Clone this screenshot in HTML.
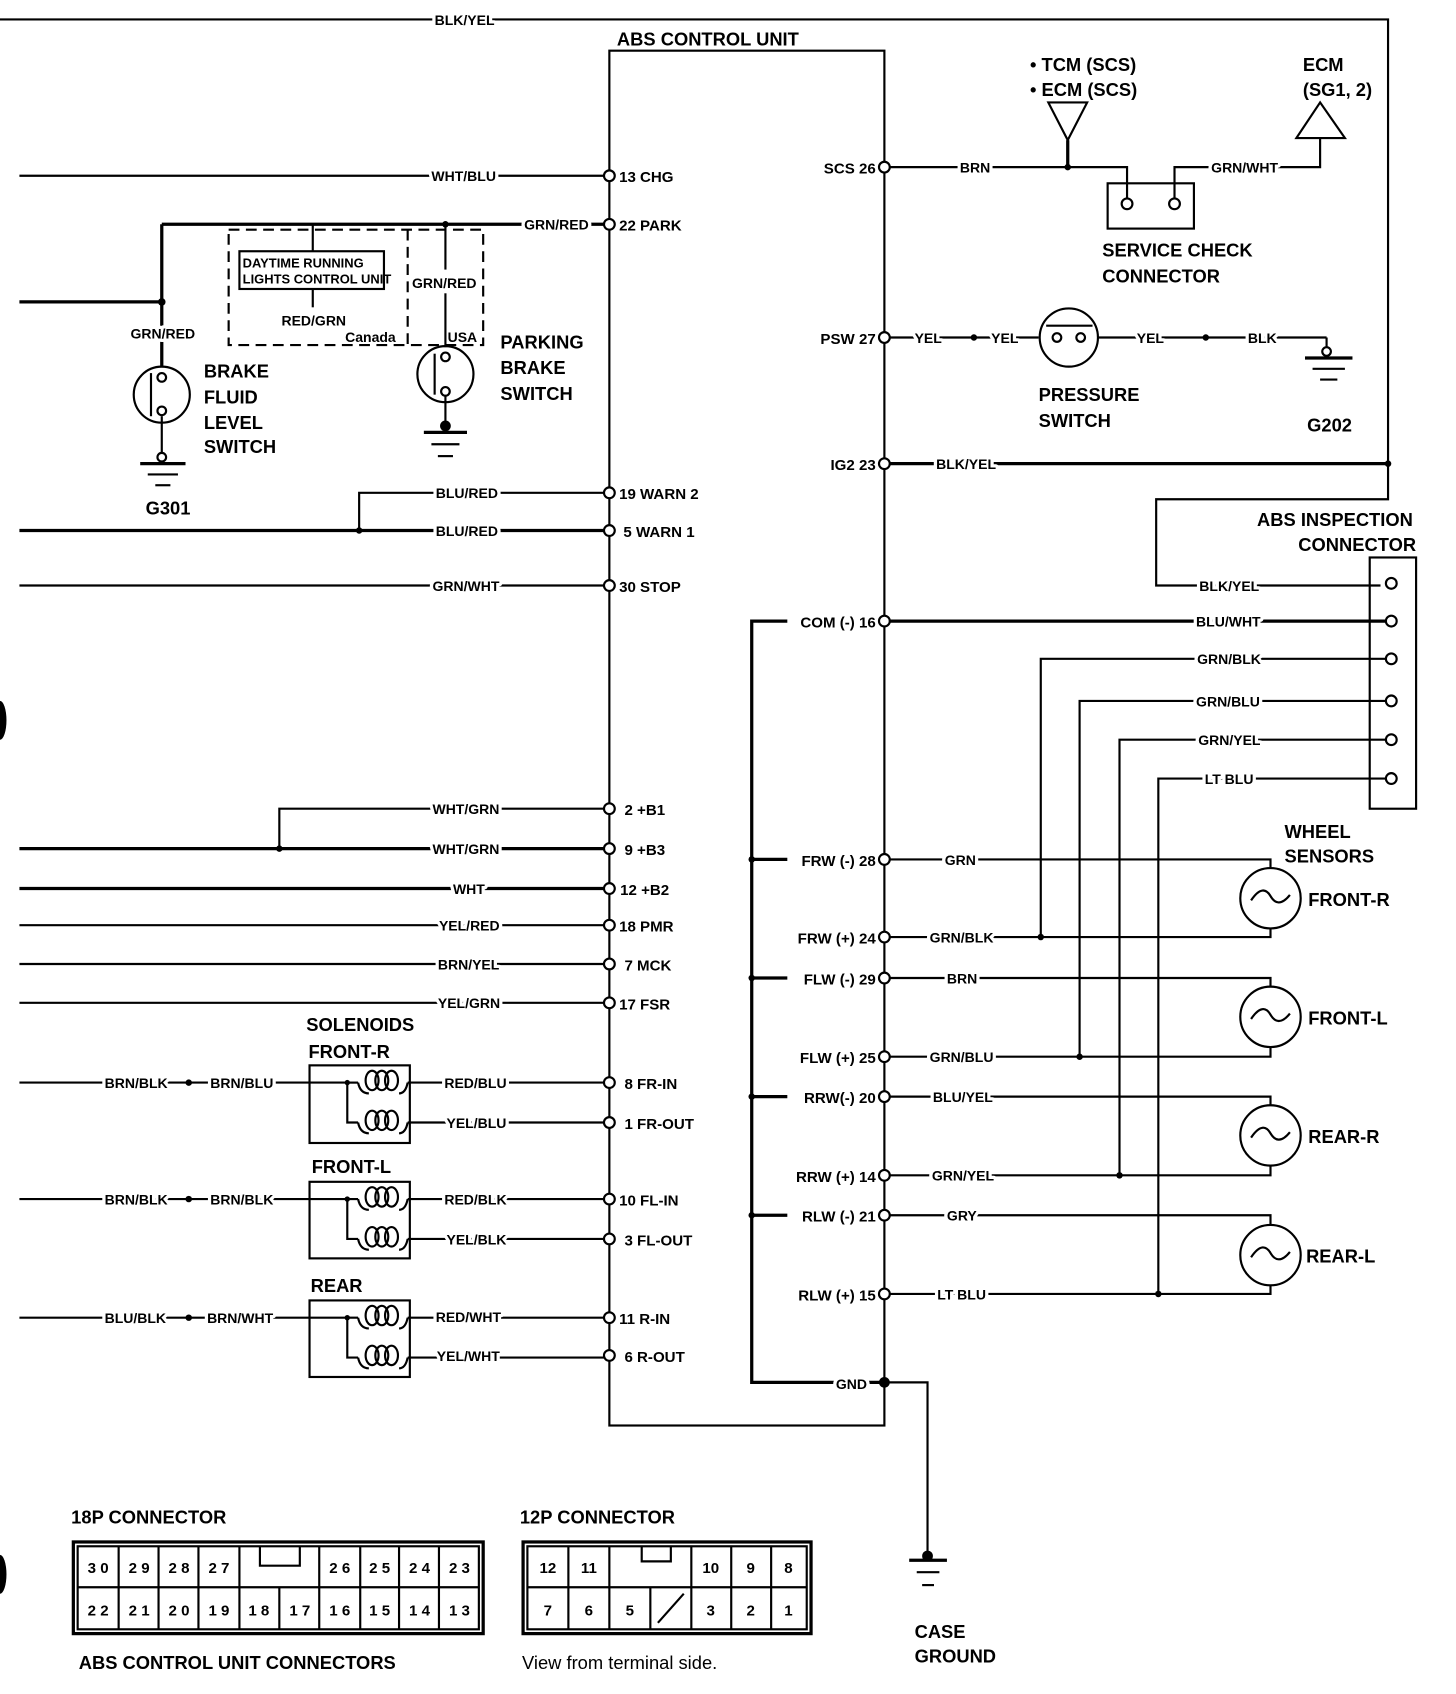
<!DOCTYPE html>
<html><head><meta charset="utf-8"><style>
html,body{margin:0;padding:0;background:#fff}
svg{display:block}
text{font-family:"Liberation Sans Narrow","Liberation Sans",sans-serif;font-weight:bold;fill:#000}
.w{font-size:13px}
.p{font-size:14px}
.l{font-size:17px}
</style></head><body>
<svg width="1456" height="1694" viewBox="0 0 1350 1571" preserveAspectRatio="none" xmlns="http://www.w3.org/2000/svg">
<defs>
<g id="wl" class="w">
<text x="403" y="23">BLK/YEL</text>
<text x="400" y="168">WHT/BLU</text>
<text x="486" y="213">GRN/RED</text>
<text x="121" y="314">GRN/RED</text>
<text x="382" y="267">GRN/RED</text>
<text x="261" y="302">RED/GRN</text>
<text x="404" y="462">BLU/RED</text>
<text x="404" y="497">BLU/RED</text>
<text x="401" y="548">GRN/WHT</text>
<text x="401" y="755">WHT/GRN</text>
<text x="401" y="792">WHT/GRN</text>
<text x="420" y="829">WHT</text>
<text x="407" y="863">YEL/RED</text>
<text x="406" y="899">BRN/YEL</text>
<text x="406" y="935">YEL/GRN</text>
<text x="97" y="1009">BRN/BLK</text><text x="195" y="1009">BRN/BLU</text>
<text x="412" y="1009">RED/BLU</text><text x="414" y="1046">YEL/BLU</text>
<text x="97" y="1117">BRN/BLK</text><text x="195" y="1117">BRN/BLK</text>
<text x="412" y="1117">RED/BLK</text><text x="414" y="1154">YEL/BLK</text>
<text x="97" y="1227">BLU/BLK</text><text x="192" y="1227">BRN/WHT</text>
<text x="404" y="1226">RED/WHT</text><text x="405" y="1262">YEL/WHT</text>
<text x="890" y="160">BRN</text>
<text x="1123" y="160">GRN/WHT</text>
<text x="848" y="318">YEL</text><text x="919" y="318">YEL</text>
<text x="1054" y="318">YEL</text><text x="1157" y="318">BLK</text>
<text x="868" y="435">BLK/YEL</text>
<text x="1112" y="548">BLK/YEL</text>
<text x="1109" y="581">BLU/WHT</text>
<text x="1110" y="616">GRN/BLK</text>
<text x="1109" y="655">GRN/BLU</text>
<text x="1111" y="691">GRN/YEL</text>
<text x="1117" y="727">LT BLU</text>
<text x="876" y="802">GRN</text>
<text x="862" y="874">GRN/BLK</text>
<text x="878" y="912">BRN</text>
<text x="862" y="985">GRN/BLU</text>
<text x="865" y="1022">BLU/YEL</text>
<text x="864" y="1095">GRN/YEL</text>
<text x="878" y="1132">GRY</text>
<text x="869" y="1205">LT BLU</text>
<text x="775" y="1288">GND</text>
</g>
</defs>
<g stroke="#000" stroke-width="2" fill="none">
<polyline points="0,18 1287,18 1287,463 1072,463 1072,543 1280,543"/>
<rect x="565" y="47" width="255" height="1275"/>
<line x1="18" y1="163" x2="560" y2="163"/>
<line x1="150" y1="208" x2="560" y2="208" stroke-width="3"/>
<polyline points="333,492 333,457 560,457"/>
<line x1="18" y1="492" x2="560" y2="492" stroke-width="3"/>
<line x1="18" y1="543" x2="560" y2="543"/>
<polyline points="259,787 259,750 560,750"/>
<line x1="18" y1="787" x2="560" y2="787" stroke-width="3"/>
<line x1="18" y1="824" x2="560" y2="824" stroke-width="3"/>
<line x1="18" y1="858" x2="560" y2="858"/>
<line x1="18" y1="894" x2="560" y2="894"/>
<line x1="18" y1="930" x2="560" y2="930"/>
<line x1="18" y1="1004" x2="322" y2="1004"/>
<line x1="18" y1="1112" x2="322" y2="1112"/>
<line x1="18" y1="1222" x2="322" y2="1222"/>
<rect x="287" y="988" width="93" height="72"/>
<rect x="287" y="1096" width="93" height="71"/>
<rect x="287" y="1206" width="93" height="71"/>
<g id="sol">
<polyline points="322,1004 322,1041 332,1041"/>
<line x1="322" y1="1004" x2="332" y2="1004"/>
<path d="M332,1004 Q334,1014 342,1014 M370,1014 Q376,1014 378,1004"/>
<ellipse cx="345" cy="1002" rx="6" ry="9"/><ellipse cx="354" cy="1002" rx="6" ry="9"/><ellipse cx="363" cy="1002" rx="6" ry="9"/>
<path d="M332,1041 Q334,1051 342,1051 M370,1051 Q376,1051 378,1041"/>
<ellipse cx="345" cy="1039" rx="6" ry="9"/><ellipse cx="354" cy="1039" rx="6" ry="9"/><ellipse cx="363" cy="1039" rx="6" ry="9"/>
<line x1="378" y1="1004" x2="560" y2="1004"/>
<line x1="378" y1="1041" x2="560" y2="1041"/>
</g>
<use href="#sol" transform="translate(0,108)"/>
<use href="#sol" transform="translate(0,218)"/>
<rect x="212" y="213" width="236" height="107" stroke-dasharray="10,6"/>
<line x1="378" y1="213" x2="378" y2="320" stroke-dasharray="10,6"/>
<rect x="222" y="233" width="134" height="35"/>
<line x1="290" y1="208" x2="290" y2="233"/>
<line x1="290" y1="268" x2="290" y2="285"/>
<polyline points="150,208 150,340" stroke-width="3"/>
<line x1="18" y1="280" x2="150" y2="280" stroke-width="3"/>
<circle cx="150" cy="366" r="26"/>
<line x1="140" y1="346" x2="140" y2="386"/>
<circle cx="150" cy="350" r="4"/><circle cx="150" cy="381" r="4"/>
<line x1="150" y1="386" x2="150" y2="420"/>
<circle cx="150" cy="424" r="4"/>
<line x1="130" y1="430" x2="172" y2="430" stroke-width="3"/>
<line x1="137" y1="440" x2="165" y2="440"/><line x1="144" y1="450" x2="158" y2="450"/>
<line x1="413" y1="208" x2="413" y2="250"/>
<line x1="413" y1="272" x2="413" y2="322"/>
<circle cx="413" cy="347" r="26"/>
<line x1="403" y1="328" x2="403" y2="366"/>
<circle cx="413" cy="331" r="4"/><circle cx="413" cy="363" r="4"/>
<line x1="413" y1="367" x2="413" y2="395"/>
<line x1="393" y1="401" x2="433" y2="401" stroke-width="3"/>
<line x1="400" y1="412" x2="426" y2="412"/><line x1="406" y1="423" x2="420" y2="423"/>
<polyline points="825,155 1045,155 1045,185"/>
<polyline points="1089,185 1089,155 1224,155 1224,128"/>
<rect x="1027" y="170" width="80" height="42"/>
<polygon points="972,95 1008,95 990,130"/>
<line x1="990" y1="130" x2="990" y2="155" stroke-width="3"/>
<polygon points="1224,95 1202,128 1247,128"/>
<line x1="825" y1="313" x2="963" y2="313"/>
<circle cx="991" cy="313" r="27"/>
<line x1="970" y1="302" x2="1013" y2="302"/>
<line x1="1018" y1="313" x2="1230" y2="313"/>
<line x1="1230" y1="313" x2="1230" y2="322"/>
<circle cx="1230" cy="326" r="4"/>
<line x1="1210" y1="332" x2="1254" y2="332" stroke-width="3"/>
<line x1="1217" y1="342" x2="1247" y2="342"/><line x1="1224" y1="352" x2="1240" y2="352"/>
<line x1="825" y1="430" x2="1287" y2="430" stroke-width="3"/>
<line x1="825" y1="576" x2="1285" y2="576" stroke-width="3"/>
<polyline points="730,576 697,576 697,1282 820,1282" stroke-width="3"/>
<line x1="697" y1="797" x2="730" y2="797" stroke-width="3"/>
<line x1="697" y1="907" x2="730" y2="907" stroke-width="3"/>
<line x1="697" y1="1017" x2="730" y2="1017" stroke-width="3"/>
<line x1="697" y1="1127" x2="730" y2="1127" stroke-width="3"/>
<polyline points="820,1282 860,1282 860,1445" stroke-width="2"/>
<line x1="843" y1="1447" x2="878" y2="1447" stroke-width="3"/>
<line x1="850" y1="1458" x2="871" y2="1458"/><line x1="855" y1="1470" x2="866" y2="1470"/>
<rect x="1270" y="517" width="43" height="233"/>
<polyline points="965,869 965,611 1285,611"/>
<polyline points="1001,980 1001,650 1285,650"/>
<polyline points="1038,1090 1038,686 1285,686"/>
<polyline points="1074,1200 1074,722 1285,722"/>
<polyline points="825,797 1178,797 1178,805"/>
<polyline points="825,869 1178,869 1178,861"/>
<polyline points="825,907 1178,907 1178,915"/>
<polyline points="825,980 1178,980 1178,971"/>
<polyline points="825,1017 1178,1017 1178,1025"/>
<polyline points="825,1090 1178,1090 1178,1081"/>
<polyline points="825,1127 1178,1127 1178,1136"/>
<polyline points="825,1200 1178,1200 1178,1192"/>
<g id="sen"><circle cx="1178" cy="833" r="28"/><path d="M1160,835 C1168,823 1174,824 1178,831 C1182,838 1188,840 1196,830"/></g>
<use href="#sen" transform="translate(0,110)"/>
<use href="#sen" transform="translate(0,220)"/>
<use href="#sen" transform="translate(0,331)"/>
<rect x="68" y="1430" width="380" height="85" stroke-width="3"/>
<rect x="72" y="1434" width="372" height="77"/>
<line x1="72" y1="1472" x2="444" y2="1472"/>
<line x1="110" y1="1434" x2="110" y2="1511"/><line x1="147" y1="1434" x2="147" y2="1511"/>
<line x1="184" y1="1434" x2="184" y2="1511"/><line x1="222" y1="1434" x2="222" y2="1511"/>
<line x1="296" y1="1434" x2="296" y2="1511"/><line x1="334" y1="1434" x2="334" y2="1511"/>
<line x1="370" y1="1434" x2="370" y2="1511"/><line x1="407" y1="1434" x2="407" y2="1511"/>
<line x1="259" y1="1472" x2="259" y2="1511"/>
<polyline points="241,1434 241,1452 278,1452 278,1434"/>
<rect x="485" y="1430" width="267" height="85" stroke-width="3"/>
<rect x="489" y="1434" width="259" height="77"/>
<line x1="489" y1="1472" x2="748" y2="1472"/>
<line x1="527" y1="1434" x2="527" y2="1511"/><line x1="565" y1="1434" x2="565" y2="1511"/>
<line x1="603" y1="1472" x2="603" y2="1511"/><line x1="641" y1="1434" x2="641" y2="1511"/>
<line x1="678" y1="1434" x2="678" y2="1511"/><line x1="715" y1="1434" x2="715" y2="1511"/>
<polyline points="595,1434 595,1448 622,1448 622,1434"/>
<line x1="610" y1="1505" x2="634" y2="1478"/>
</g>
<g fill="#fff" stroke="#000" stroke-width="2">
<circle cx="565" cy="163" r="5"/><circle cx="565" cy="208" r="5"/><circle cx="565" cy="457" r="5"/><circle cx="565" cy="492" r="5"/><circle cx="565" cy="543" r="5"/>
<circle cx="565" cy="750" r="5"/><circle cx="565" cy="787" r="5"/><circle cx="565" cy="824" r="5"/><circle cx="565" cy="858" r="5"/><circle cx="565" cy="894" r="5"/><circle cx="565" cy="930" r="5"/>
<circle cx="565" cy="1004" r="5"/><circle cx="565" cy="1041" r="5"/><circle cx="565" cy="1112" r="5"/><circle cx="565" cy="1149" r="5"/><circle cx="565" cy="1222" r="5"/><circle cx="565" cy="1257" r="5"/>
<circle cx="820" cy="155" r="5"/><circle cx="820" cy="313" r="5"/><circle cx="820" cy="430" r="5"/><circle cx="820" cy="576" r="5"/>
<circle cx="820" cy="797" r="5"/><circle cx="820" cy="869" r="5"/><circle cx="820" cy="907" r="5"/><circle cx="820" cy="980" r="5"/><circle cx="820" cy="1017" r="5"/><circle cx="820" cy="1090" r="5"/><circle cx="820" cy="1127" r="5"/><circle cx="820" cy="1200" r="5"/>
<circle cx="1290" cy="541" r="5"/><circle cx="1290" cy="576" r="5"/><circle cx="1290" cy="611" r="5"/><circle cx="1290" cy="650" r="5"/><circle cx="1290" cy="686" r="5"/><circle cx="1290" cy="722" r="5"/>
<circle cx="1045" cy="189" r="5"/><circle cx="1089" cy="189" r="5"/>
<circle cx="980" cy="313" r="4"/><circle cx="1002" cy="313" r="4"/>
</g>
<g fill="#000">
<circle cx="413" cy="208" r="3"/><circle cx="150" cy="280" r="3.5"/><circle cx="333" cy="492" r="3"/><circle cx="259" cy="787" r="3"/>
<circle cx="175" cy="1004" r="3"/><circle cx="175" cy="1112" r="3"/><circle cx="175" cy="1222" r="3"/>
<circle cx="322" cy="1004" r="2.5"/><circle cx="322" cy="1112" r="2.5"/><circle cx="322" cy="1222" r="2.5"/>
<circle cx="990" cy="155" r="3"/><circle cx="903" cy="313" r="3"/><circle cx="1118" cy="313" r="3"/><circle cx="1287" cy="430" r="3"/>
<circle cx="697" cy="797" r="3"/><circle cx="697" cy="907" r="3"/><circle cx="697" cy="1017" r="3"/><circle cx="697" cy="1127" r="3"/>
<circle cx="965" cy="869" r="3"/><circle cx="1001" cy="980" r="3"/><circle cx="1038" cy="1090" r="3"/><circle cx="1074" cy="1200" r="3"/>
<circle cx="820" cy="1282" r="5"/><circle cx="413" cy="395" r="5"/><circle cx="860" cy="1443" r="5"/>
<ellipse cx="0" cy="668" rx="6" ry="18"/><ellipse cx="0" cy="1460" rx="6" ry="18"/>
</g>
<use href="#wl" style="stroke:#fff;stroke-width:6px;stroke-linejoin:round"/>
<use href="#wl"/>
<g class="p">
<text x="574" y="169">13  CHG</text>
<text x="574" y="214">22  PARK</text>
<text x="574" y="463">19  WARN 2</text>
<text x="578" y="498">5  WARN 1</text>
<text x="574" y="549">30  STOP</text>
<text x="579" y="756">2  +B1</text>
<text x="579" y="793">9  +B3</text>
<text x="575" y="830">12  +B2</text>
<text x="574" y="864">18  PMR</text>
<text x="579" y="900">7  MCK</text>
<text x="574" y="936">17  FSR</text>
<text x="579" y="1010">8  FR-IN</text>
<text x="579" y="1047">1  FR-OUT</text>
<text x="574" y="1118">10  FL-IN</text>
<text x="579" y="1155">3  FL-OUT</text>
<text x="574" y="1228">11  R-IN</text>
<text x="579" y="1263">6  R-OUT</text>
</g>
<g class="p" text-anchor="end">
<text x="812" y="161">SCS  26</text>
<text x="812" y="319">PSW  27</text>
<text x="812" y="436">IG2  23</text>
<text x="812" y="582">COM (-)  16</text>
<text x="812" y="803">FRW (-)  28</text>
<text x="812" y="875">FRW (+)  24</text>
<text x="812" y="913">FLW (-)  29</text>
<text x="812" y="986">FLW (+)  25</text>
<text x="812" y="1023">RRW(-)  20</text>
<text x="812" y="1096">RRW (+)  14</text>
<text x="812" y="1133">RLW (-)  21</text>
<text x="812" y="1206">RLW (+)  15</text>
</g>
<g class="l">
<text x="572" y="42">ABS CONTROL UNIT</text>
<text x="955" y="66">• TCM (SCS)</text>
<text x="955" y="89">• ECM (SCS)</text>
<text x="1208" y="66">ECM</text>
<text x="1208" y="89">(SG1, 2)</text>
<text x="1022" y="238">SERVICE CHECK</text>
<text x="1022" y="262">CONNECTOR</text>
<text x="963" y="372">PRESSURE</text>
<text x="963" y="396">SWITCH</text>
<text x="1212" y="400">G202</text>
<text x="1310" y="488" text-anchor="end">ABS INSPECTION</text>
<text x="1313" y="511" text-anchor="end">CONNECTOR</text>
<text x="1191" y="777">WHEEL</text>
<text x="1191" y="800">SENSORS</text>
<text x="1213" y="840">FRONT-R</text>
<text x="1213" y="950">FRONT-L</text>
<text x="1213" y="1060">REAR-R</text>
<text x="1211" y="1171">REAR-L</text>
<text x="189" y="350">BRAKE</text><text x="189" y="374">FLUID</text>
<text x="189" y="398">LEVEL</text><text x="189" y="420">SWITCH</text>
<text x="135" y="477">G301</text>
<text x="464" y="323">PARKING</text><text x="464" y="347">BRAKE</text><text x="464" y="371">SWITCH</text>
<text x="284" y="956">SOLENOIDS</text>
<text x="286" y="981">FRONT-R</text>
<text x="289" y="1088">FRONT-L</text>
<text x="288" y="1198">REAR</text>
<text x="848" y="1519">CASE</text>
<text x="848" y="1542">GROUND</text>
<text x="66" y="1413" style="font-family:'Liberation Sans',sans-serif">18P CONNECTOR</text>
<text x="482" y="1413" style="font-family:'Liberation Sans',sans-serif">12P CONNECTOR</text>
<text x="73" y="1548" style="font-family:'Liberation Sans',sans-serif">ABS CONTROL UNIT CONNECTORS</text>
<text x="484" y="1548" style="font-family:'Liberation Sans',sans-serif;font-weight:normal">View from terminal side.</text>
</g>
<g style="font-size:12px">
<text x="225" y="248">DAYTIME RUNNING</text>
<text x="225" y="263">LIGHTS CONTROL UNIT</text>
</g>
<g style="font-size:13px"><text x="320" y="317">Canada</text><text x="415" y="317">USA</text></g>
<g class="p" text-anchor="middle">
<text x="91" y="1459">3 0</text><text x="129" y="1459">2 9</text><text x="166" y="1459">2 8</text><text x="203" y="1459">2 7</text>
<text x="315" y="1459">2 6</text><text x="352" y="1459">2 5</text><text x="389" y="1459">2 4</text><text x="426" y="1459">2 3</text>
<text x="91" y="1498">2 2</text><text x="129" y="1498">2 1</text><text x="166" y="1498">2 0</text><text x="203" y="1498">1 9</text>
<text x="240" y="1498">1 8</text><text x="278" y="1498">1 7</text><text x="315" y="1498">1 6</text><text x="352" y="1498">1 5</text><text x="389" y="1498">1 4</text><text x="426" y="1498">1 3</text>
<text x="508" y="1459">12</text><text x="546" y="1459">11</text><text x="659" y="1459">10</text><text x="696" y="1459">9</text><text x="731" y="1459">8</text>
<text x="508" y="1498">7</text><text x="546" y="1498">6</text><text x="584" y="1498">5</text><text x="659" y="1498">3</text><text x="696" y="1498">2</text><text x="731" y="1498">1</text>
</g>
</svg>
</body></html>
